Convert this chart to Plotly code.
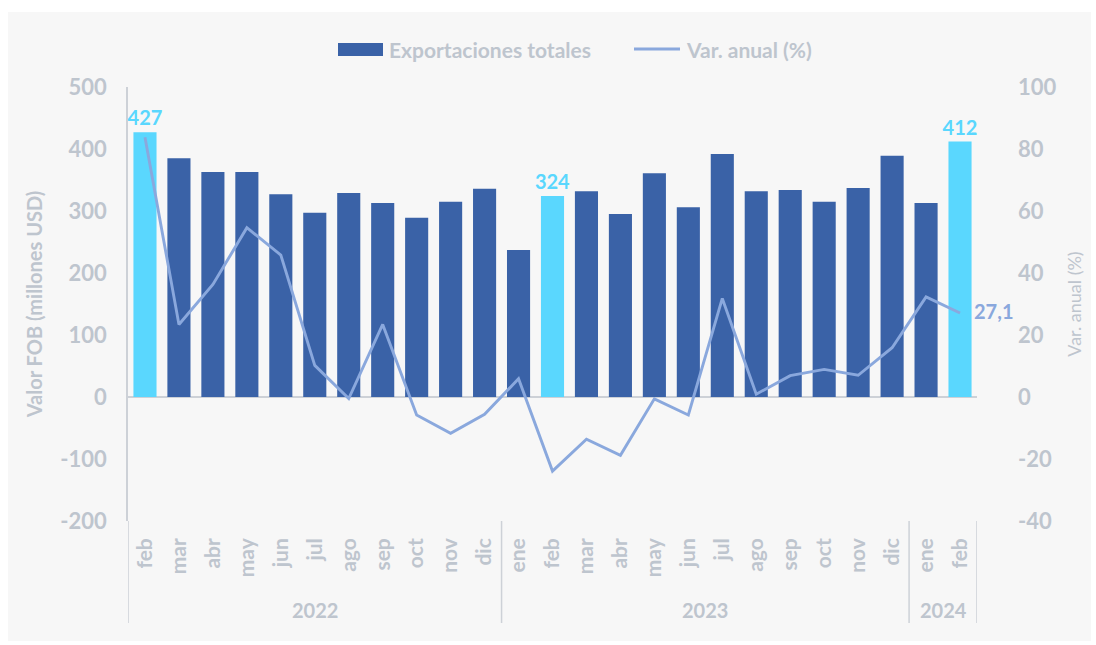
import plotly.graph_objects as go

years = ["2022"] * 11 + ["2023"] * 12 + ["2024"] * 2
months = ["feb", "mar", "abr", "may", "jun", "jul", "ago", "sep", "oct", "nov", "dic",
          "ene", "feb", "mar", "abr", "may", "jun", "jul", "ago", "sep", "oct", "nov", "dic",
          "ene", "feb"]
exports = [427, 385, 363, 363, 327, 297, 329, 313, 289, 315, 336,
           237, 324, 332, 295, 361, 306, 392, 332, 334, 315, 337, 389,
           313, 412]
var_anual = [83.8, 23.4, 36.3, 54.6, 45.8, 10.2, -0.5, 23.4, -5.8, -11.7, -5.6,
             5.9, -23.9, -13.6, -18.8, -0.6, -5.8, 31.8, 0.9, 6.9, 8.9, 7.0, 15.9,
             32.3, 27.1]
highlight = [0, 12, 24]
y1_ticks = [-200, -100, 0, 100, 200, 300, 400, 500]
y2_ticks = [-40, -20, 0, 20, 40, 60, 80, 100]

DARK = "#3A62A7"
LIGHT = "#5AD7FE"
LINE = "#8AA8DD"
GRAY = "#BEC5CE"
AXIS = "#CDD1D7"
FONT = "Lato"

idx = list(range(len(exports)))
bar_colors = [LIGHT if i in highlight else DARK for i in idx]
bar_text = [str(v) if i in highlight else "" for i, v in enumerate(exports)]

fig = go.Figure()
fig.add_trace(go.Bar(
    x=idx, y=exports, name="Exportaciones totales",
    marker=dict(color=bar_colors, line=dict(width=0)),
    text=bar_text, textposition="outside", cliponaxis=False, constraintext="none",
    textfont=dict(color=LIGHT, size=20, family=FONT, weight="bold"),
    width=0.68, showlegend=False,
))
fig.add_trace(go.Scatter(
    x=idx, y=var_anual, name="Var. anual (%)", yaxis="y2",
    mode="lines", line=dict(color=LINE, width=2.9),
    showlegend=False,
))

L, R, T, B = 128, 977, 87, 521
W, H = 1096, 645
def px(x):
    return (x - L) / (R - L)
def py(y):
    return (B - y) / (B - T)

shapes = []
shapes.append(dict(type="rect", xref="paper", yref="paper", layer="below",
                   x0=px(8), x1=px(1091), y0=py(641), y1=py(12),
                   fillcolor="#F7F7F7", line=dict(width=0)))

annotations = []
# last value label of the line
annotations.append(dict(text=f"{var_anual[-1]:.1f}".replace(".", ","), xref="x", yref="y2",
                        x=idx[-1], y=var_anual[-1], xanchor="left", yanchor="middle",
                        xshift=12, yshift=2, showarrow=False,
                        font=dict(size=20, color=LINE, family=FONT, weight="bold")))

# year group dividers and labels
groups = []
for i, yv in enumerate(years):
    if not groups or groups[-1][0] != yv:
        groups.append([yv, i, i])
    else:
        groups[-1][2] = i
bounds = [groups[0][1] - 0.5] + [g[2] + 0.5 for g in groups]
for b in bounds:
    shapes.append(dict(type="line", xref="x", yref="paper", x0=b, x1=b,
                       y0=0, y1=py(623), line=dict(color=AXIS, width=1.5)))
for g in groups:
    annotations.append(dict(text=g[0], xref="x", yref="paper", x=(g[1] + g[2]) / 2,
                            y=py(610), showarrow=False, yanchor="middle",
                            font=dict(size=20, color=GRAY, family=FONT, weight="bold")))

# manual legend
shapes.append(dict(type="rect", xref="paper", yref="paper",
                   x0=px(338), x1=px(383), y0=py(56), y1=py(43),
                   fillcolor=DARK, line=dict(width=0)))
shapes.append(dict(type="line", xref="paper", yref="paper",
                   x0=px(634), x1=px(680), y0=py(49), y1=py(49),
                   line=dict(color=LINE, width=3)))
annotations.append(dict(text="Exportaciones totales", xref="paper", yref="paper",
                        x=px(387), y=py(49.5), xanchor="left", yanchor="middle", showarrow=False,
                        font=dict(size=21, color=GRAY, family=FONT, weight="bold")))
annotations.append(dict(text="Var. anual (%)", xref="paper", yref="paper",
                        x=px(684), y=py(49.5), xanchor="left", yanchor="middle", showarrow=False,
                        font=dict(size=21, color=GRAY, family=FONT, weight="bold")))

fig.update_layout(
    width=W, height=H,
    margin=dict(l=L, r=W - R, t=T, b=H - B),
    paper_bgcolor="white", plot_bgcolor="rgba(0,0,0,0)",
    font=dict(family=FONT, color=GRAY, size=16),
    showlegend=False,
    shapes=shapes, annotations=annotations,
    xaxis=dict(
        range=[-0.5, len(exports) - 0.5], tickmode="array", tickvals=idx, ticktext=months,
        tickangle=-90, showgrid=False, zeroline=False, showline=False, ticks="",
        ticklabelstandoff=12,
        tickfont=dict(size=21, color=GRAY, family=FONT, weight="bold"),
    ),
    yaxis=dict(
        range=[-200, 500], tickmode="array", tickvals=y1_ticks,
        ticktext=[str(v) for v in y1_ticks], showgrid=False,
        zeroline=True, zerolinecolor=AXIS, zerolinewidth=1.5,
        showline=True, linecolor=AXIS, linewidth=1.5,
        tickfont=dict(size=22, color=GRAY, family=FONT, weight="bold"),
        ticklabelstandoff=15,
        title=dict(text="Valor FOB (millones USD)", standoff=12,
                   font=dict(size=20, color=GRAY, family=FONT, weight="bold")),
    ),
    yaxis2=dict(
        range=[-40, 100], tickmode="array", tickvals=y2_ticks,
        ticktext=[str(v) for v in y2_ticks], overlaying="y", side="right", showgrid=False,
        zeroline=False, showline=False,
        tickfont=dict(size=22, color=GRAY, family=FONT, weight="bold"),
        ticklabelstandoff=40,
        title=dict(text="Var. anual (%)", standoff=12,
                   font=dict(size=18, color=GRAY, family=FONT)),
    ),
)

fig.write_html("out.html")
